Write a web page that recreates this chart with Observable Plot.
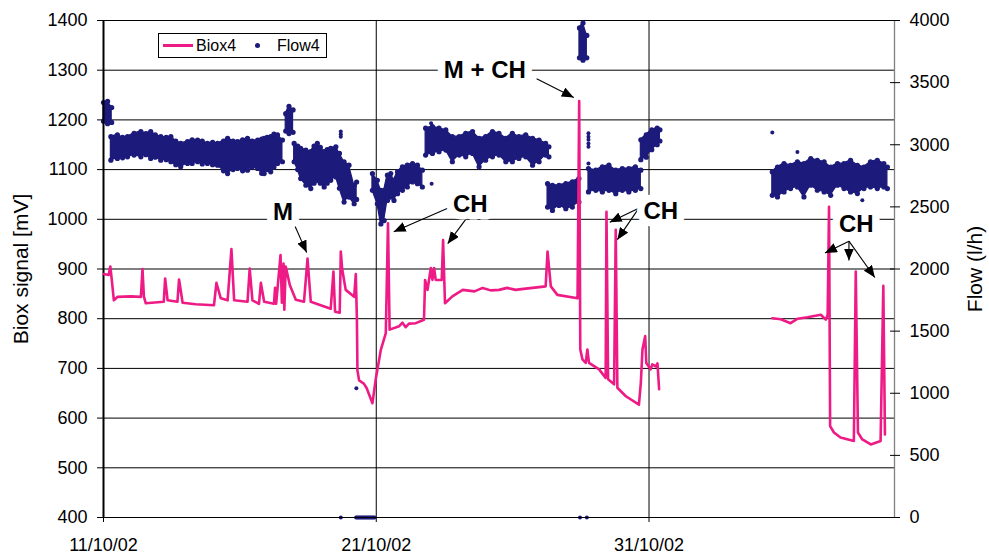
<!DOCTYPE html>
<html>
<head>
<meta charset="utf-8">
<script src="https://cdn.jsdelivr.net/npm/d3@7"></script>
<script src="https://cdn.jsdelivr.net/npm/@observablehq/plot@0.6"></script>
<style>
  html, body { margin: 0; padding: 0; background: #fff; }
  body { font-family: "Liberation Sans", Arial, sans-serif; }
  #wrap { position: relative; width: 989px; height: 557px; overflow: hidden; }
  #wrap svg { display: block; }
  #legend { position: absolute; left: 158px; top: 33px; width: 169px; height: 25px; box-sizing: border-box;
            border: 1px solid #000; background: #fff; font-size: 16px; color: #000; }
  #legend .sw-line { position: absolute; left: 4px; top: 10px; width: 30px; height: 3px; }
  #legend .sw-dot { position: absolute; left: 96px; top: 9px; width: 5px; height: 5px; border-radius: 50%; }
  #legend .lt { position: absolute; top: 0; line-height: 23px; }
</style>
</head>
<body>
<div id="wrap">
  <div id="legend"></div>
</div>
<script>
// ---------- data (x values are days since 11/10/02 00:00) ----------
const seriesNames = ["Biox4", "Flow4"];
const seriesColors = ["#ee1a85", "#1c1a7a"];

// Biox4 signal [mV] (null = gap in record)
const bioxDay = [0.01,0.19,0.25,0.30,0.38,0.52,1.00,1.37,1.43,1.48,1.55,2.21,2.26,2.35,2.71,2.77,2.90,3.38,4.05,4.14,4.30,4.55,4.69,4.79,5.28,5.36,5.46,5.70,5.77,5.89,6.25,6.29,6.33,6.49,6.54,6.60,6.63,6.68,6.83,7.05,7.35,7.48,7.60,8.33,8.43,8.49,8.66,8.70,8.75,8.88,9.19,9.25,9.29,9.31,9.37,9.55,9.65,9.86,9.98,10.17,10.35,10.43,10.49,10.84,10.96,11.08,11.20,11.45,11.75,11.79,11.88,12.00,12.06,12.12,12.18,12.40,12.45,12.52,12.79,13.17,13.60,13.90,14.20,14.50,14.80,15.11,15.40,15.73,16.21,16.28,16.40,16.64,17.38,17.44,17.48,17.56,17.68,17.74,17.80,18.17,18.41,18.44,18.50,18.72,18.78,18.84,19.15,19.63,19.70,19.76,19.86,19.90,20.06,20.12,20.25,20.31,20.37,
  null,
  24.52,24.83,25.19,25.45,25.81,26.30,26.48,26.55,26.60,26.64,26.78,27.02,27.51,27.58,27.66,27.82,28.13,28.49,28.59,28.65];
const bioxMv = [890,888,905,880,837,844,845,844,900,845,831,834,881,837,834,879,832,829,827,872,841,837,940,837,834,901,837,830,872,834,830,862,830,928,832,911,818,905,868,838,834,921,834,820,895,814,812,935,900,858,844,890,800,696,676,669,660,630,678,738,771,992,778,785,792,783,790,791,798,878,858,902,878,902,878,878,958,831,845,858,855,862,857,858,862,858,860,862,865,935,865,848,841,1238,738,718,711,738,711,698,681,1015,678,668,979,661,644,627,671,738,765,711,698,708,704,710,658,
  null,
  801,799,791,800,803,808,798,808,1025,584,571,561,554,895,571,557,547,554,866,567];

// Flow4 [l/h]: dense point cloud read as low / high envelope per time (null = gap between clusters)
const flowDay = [
  0.00,0.15,0.30, null,
  0.27,0.51,0.70,0.88,1.12,1.37,1.55,1.73,1.90,2.10,2.30,2.47,2.65,2.83,3.08,3.25,3.45,3.62,3.81,4.00,4.18,4.40,4.55,4.75,4.91,5.10,5.28,5.45,5.65,5.80,5.89,6.00,6.13,6.25,6.38,6.56, null,
  6.68,6.80,6.95, null,
  6.99,7.12,7.23,7.42,7.60,7.72,7.84,7.95,8.09,8.20,8.33,8.52,8.65,8.82,9.00,9.19,9.28, null,
  9.86,10.04,10.17,10.29,10.41,10.53,10.65,10.78,10.96,11.14,11.33,11.51,11.69, null,
  11.81,12.06,12.30,12.55,12.79,13.04,13.28,13.53,13.77,14.01,14.26,14.50,14.75,14.99,15.23,15.48,15.73,15.97,16.21,16.33, null,
  16.28,16.46,16.70,16.95,17.19,17.43, null,
  17.45,17.58,17.72, null,
  17.78,18.05,18.29,18.53,18.78,19.02,19.26,19.50,19.70, null,
  19.70,19.90,20.10,20.30,20.40, null,
  24.52,24.71,24.95,25.19,25.44,25.68,25.93,26.17,26.42,26.66,26.91,27.15,27.39,27.64,27.88,28.12,28.37,28.61,28.74];
const flowLo = [
  3190,3170,3180, null,
  2876,2890,2895,2903,2917,2903,2920,2890,2900,2876,2880,2863,2840,2822,2849,2850,2863,2845,2849,2840,2836,2790,2768,2800,2809,2790,2795,2820,2809,2770,2768,2800,2782,2820,2849,2863, null,
  3110,3090,3100, null,
  2863,2800,2728,2674,2647,2690,2714,2690,2660,2690,2714,2741,2650,2539,2579,2525,2560, null,
  2633,2525,2363,2390,2552,2579,2552,2606,2633,2660,2701,2687,2660, null,
  2917,2930,2944,2957,2863,2917,2903,2930,2822,2876,2903,2917,2863,2863,2890,2903,2836,2863,2917,2903, null,
  2498,2471,2512,2485,2498,2539, null,
  3700,3680,3700, null,
  2620,2633,2620,2633,2606,2633,2620,2633,2647, null,
  2880,2900,2960,3000,3030, null,
  2593,2580,2620,2647,2660,2580,2674,2634,2620,2593,2674,2647,2620,2607,2647,2660,2647,2660,2647];
const flowHi = [
  3340,3350,3300, null,
  3065,3079,3060,3065,3092,3106,3090,3106,3080,3065,3060,3065,3030,3011,3025,3040,3038,3030,3011,3020,3011,3030,3052,3030,3025,3040,3052,3030,3038,3045,3052,3060,3065,3085,3079,3038, null,
  3250,3310,3280, null,
  3011,2990,2971,2957,2944,2990,3011,2980,2944,2960,2971,2984,2930,2862,2836,2674,2700, null,
  2768,2714,2633,2633,2755,2768,2714,2782,2822,2836,2849,2836,2795, null,
  3133,3146,3133,3119,3065,3065,3092,3106,3052,3065,3106,3092,3052,3092,3065,3079,3052,3038,3011,2984, null,
  2687,2674,2674,2687,2701,2728, null,
  3940,3980,3880, null,
  2809,2795,2822,2836,2795,2809,2809,2822,2795, null,
  3040,3080,3120,3135,3120, null,
  2781,2821,2848,2835,2862,2848,2889,2875,2862,2821,2848,2848,2875,2835,2821,2862,2875,2848,2821];

// Isolated Flow4 points
const flowDotDay = [8.70,8.70,8.70,9.27,12.01,12.03,17.78,17.78,17.78,17.78,17.78,17.78,24.52,25.44,27.82,
  8.70,9.26,9.30,9.34,9.38,9.42,9.46,9.50,9.54,9.58,9.62,9.66,9.70,9.74,9.78,9.82,9.86,9.90,9.94,17.47,17.72];
const flowDotVal = [3106,3085,3065,1041,3173,2687,3092,3065,3040,3011,2984,2849,3098,2942,2553,
  0,0,0,0,0,0,0,0,0,0,0,0,0,0,0,0,0,0,0,0,0];

// Axis ticks
const bioxTicks = [400,500,600,700,800,900,1000,1100,1200,1300,1400];
const flowTicks = [0,500,1000,1500,2000,2500,3000,3500,4000];
const dateTickDays = [0, 10, 20];
const spanDays = 29;

// Annotations
const annText = ["M", "CH", "M + CH", "CH", "CH"];
const annDay  = [6.58, 13.45, 13.98, 20.43, 27.60];
const annMv   = [1015, 1031, 1300, 1016, 990];
const arrFromDay = [6.99, 15.88, 12.62, 13.39, 19.62, 19.62, 27.33, 27.33, 27.33];
const arrFromMv  = [990, 1283, 1022, 1008, 1022, 1022, 956, 956, 956];
const arrToDay   = [7.45, 17.24, 10.64, 12.62, 18.56, 18.84, 26.45, 27.33, 28.28];
const arrToMv    = [933, 1245, 975, 951, 994, 959, 932, 917, 883];

// ---------- build ----------
const t0 = Date.UTC(2002, 9, 11);
const day = d => (d == null ? NaN : new Date(t0 + d * 864e5));
const flowToMv = f => (f == null ? NaN : 400 + f / 4);   // right axis 0..4000 maps onto 400..1400
const nn = v => (v == null ? NaN : v);

const bioxRows = bioxDay.map((d, i) => ({x: day(d), y: nn(bioxMv[i])}));
const flowRows = flowDay.map((d, i) => ({x: day(d), lo: flowToMv(flowLo[i]), hi: flowToMv(flowHi[i])}));
const edgeRows = flowRows.filter(r => !isNaN(r.lo)).flatMap(r => [{x: r.x, y: r.lo}, {x: r.x, y: r.hi}]);
const dotRows = flowDotDay.map((d, i) => ({x: day(d), y: flowToMv(flowDotVal[i])}));
const annRows = annText.map((t, i) => ({x: day(annDay[i]), y: annMv[i], t}));
const arrRows = arrFromDay.map((d, i) => ({x1: day(d), y1: arrFromMv[i], x2: day(arrToDay[i]), y2: arrToMv[i]}));
const fmt = d3.utcFormat("%d/%m/%y");

const chart = Plot.plot({
  width: 989,
  height: 557,
  marginLeft: 103,
  marginRight: 95,
  marginTop: 20,
  marginBottom: 40,
  style: {fontFamily: "'Liberation Sans', Arial, sans-serif", fontSize: "18px", background: "#fff", color: "#000", overflow: "visible"},
  x: {type: "utc", domain: [day(0), day(spanDays)], label: null},
  y: {domain: [400, 1400], label: null},
  marks: [
    Plot.gridY(bioxTicks, {stroke: "#000", strokeOpacity: 1, strokeWidth: 1}),
    Plot.gridX(dateTickDays.slice(1).map(day), {stroke: "#000", strokeOpacity: 1, strokeWidth: 1}),
    Plot.ruleX([day(spanDays)], {stroke: "#808080", strokeWidth: 1.3}),
    Plot.axisY(bioxTicks, {anchor: "left", tickSize: 6, tickPadding: 10, label: null, tickFormat: v => String(v)}),
    Plot.axisY(flowTicks.map(f => flowToMv(f)), {anchor: "right", tickSize: 10, tickPadding: 10, dx: -5, label: null,
      tickFormat: v => String(Math.round((v - 400) * 4))}),
    Plot.axisX(dateTickDays.map(day), {anchor: "bottom", tickSize: 5, tickPadding: 16, tickFormat: fmt, label: null}),
    // Flow4 cloud
    Plot.areaY(flowRows, {x: "x", y1: "lo", y2: "hi", fill: seriesColors[1], stroke: seriesColors[1], strokeWidth: 1.2}),
    Plot.dot(edgeRows, {x: "x", y: "y", r: 2.6, fill: seriesColors[1], stroke: "none"}),
    Plot.dot(dotRows, {x: "x", y: "y", r: 2, fill: seriesColors[1], stroke: "none"}),
    // axes lines
    Plot.ruleY([400], {stroke: "#000", strokeWidth: 1.2}),
    Plot.ruleX([day(0)], {stroke: "#000", strokeWidth: 2}),
    // Biox4 line
    Plot.line(bioxRows, {x: "x", y: "y", stroke: seriesColors[0], strokeWidth: 2.6, strokeLinejoin: "round", curve: "linear"}),
    // annotations
    Plot.link(arrRows, {x1: "x1", y1: "y1", x2: "x2", y2: "y2", stroke: "#000", strokeWidth: 1.1}),
    Plot.text(annRows, {x: "x", y: "y", text: "t", fontSize: 24, fontWeight: "bold", fill: "#000",
      stroke: "#fff", strokeWidth: 15, strokeLinejoin: "round", textAnchor: "middle", lineAnchor: "middle"}),
    // axis titles
    Plot.text(["Biox signal [mV]"], {frameAnchor: "left", text: d => d, rotate: -90, dx: -82, fontSize: 21,
      textAnchor: "middle", lineAnchor: "middle", fill: "#000"}),
    Plot.text(["Flow (l/h)"], {frameAnchor: "right", text: d => d, rotate: -90, dx: 81, fontSize: 21,
      textAnchor: "middle", lineAnchor: "middle", fill: "#000"})
  ]
});

// filled arrowheads for the annotation links
const svg = d3.select(chart);
const defs = svg.insert("defs", ":first-child");
defs.append("marker")
  .attr("id", "ahead").attr("viewBox", "0 0 12 10").attr("refX", 12).attr("refY", 5)
  .attr("markerWidth", 12).attr("markerHeight", 10).attr("markerUnits", "userSpaceOnUse").attr("orient", "auto")
  .append("path").attr("d", "M0,0L12,5L0,10Z").attr("fill", "#000");
svg.selectAll('g[aria-label="link"] path').attr("marker-end", "url(#ahead)");

const wrap = document.getElementById("wrap");
wrap.insertBefore(chart, wrap.firstChild);

// legend
const lg = document.getElementById("legend");
lg.innerHTML =
  `<span class="sw-line" style="background:${seriesColors[0]}"></span>` +
  `<span class="lt" style="left:37px">${seriesNames[0]}</span>` +
  `<span class="sw-dot" style="background:${seriesColors[1]}"></span>` +
  `<span class="lt" style="left:118px">${seriesNames[1]}</span>`;
</script>
</body>
</html>
